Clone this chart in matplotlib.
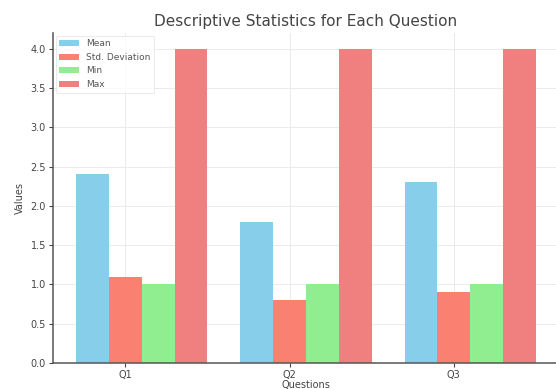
import numpy as np
import matplotlib
matplotlib.use('Agg')
import matplotlib.pyplot as plt

questions = ['Q1', 'Q2', 'Q3']
mean_vals = [2.4, 1.8, 2.3]
std_vals = [1.1, 0.8, 0.9]
min_vals = [1.0, 1.0, 1.0]
max_vals = [4.0, 4.0, 4.0]

x = np.arange(len(questions))
w = 0.2

fig = plt.figure(figsize=(5.56, 3.89), dpi=100)
ax = fig.add_axes([0.0953, 0.067, 0.91, 0.848])

ax.bar(x - w, mean_vals, w, color='skyblue', label='Mean', zorder=2)
ax.bar(x, std_vals, w, color='salmon', label='Std. Deviation', zorder=2)
ax.bar(x + w, min_vals, w, color='lightgreen', label='Min', zorder=2)
ax.bar(x + 2 * w, max_vals, w, color='lightcoral', label='Max', zorder=2)

ax.set_xticks(x)
ax.set_xticklabels(questions)
ax.set_yticks(np.arange(0, 4.01, 0.5))
ax.set_ylim(0, 4.2)
ax.set_xlabel('Questions', fontsize=7, color='#444444', labelpad=0)
ax.set_ylabel('Values', fontsize=7, color='#444444', labelpad=4)
ax.set_title('Descriptive Statistics for Each Question', fontsize=11, color='#444444', pad=5)

ax.grid(True, color='#ebebeb', linewidth=0.7, zorder=0)
ax.set_axisbelow(True)
for s in ['top', 'right']:
    ax.spines[s].set_visible(False)
for s in ['left', 'bottom']:
    ax.spines[s].set_color('#555555')
    ax.spines[s].set_linewidth(1.1)
ax.tick_params(labelsize=7, colors='#444444', length=3, width=0.8, pad=2)

leg = ax.legend(loc='upper left', fontsize=6.5, frameon=True, handlelength=2.2,
                borderaxespad=0.3, labelspacing=0.5)
leg.get_frame().set_edgecolor('#e0e0e0')
leg.get_frame().set_linewidth(0.6)
for t in leg.get_texts():
    t.set_color('#555555')

fig.savefig('out.png', dpi=100)
